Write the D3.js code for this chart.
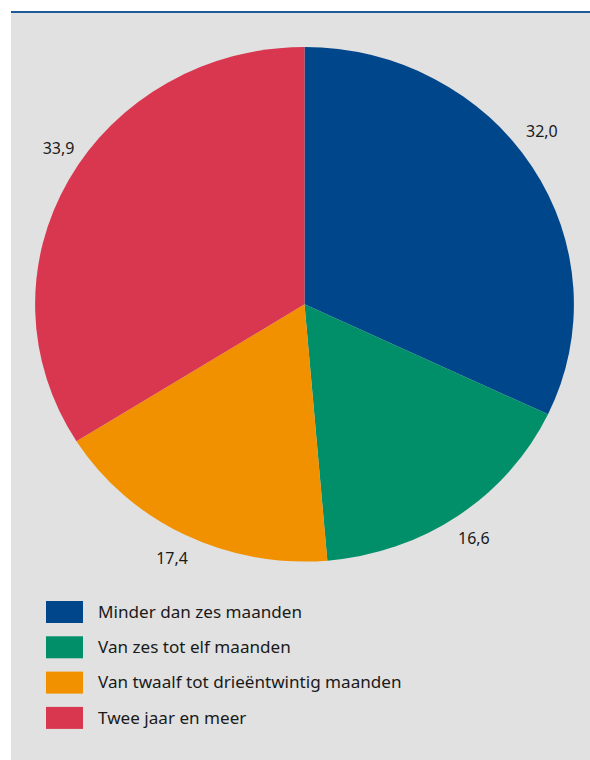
<!DOCTYPE html>
<html>
<head>
<meta charset="utf-8">
<script src="https://cdn.jsdelivr.net/npm/d3@7"></script>
<style>
  html, body { margin: 0; padding: 0; background: #ffffff; }
  svg { display: block; }
  text { font-family: "Noto Sans", "Open Sans", sans-serif; fill: #1a1a1a; }
</style>
</head>
<body>
<script>
// Duur van de werkloosheid (procenten)
const categories = [
  "Minder dan zes maanden",
  "Van zes tot elf maanden",
  "Van twaalf tot drieëntwintig maanden",
  "Twee jaar en meer"
];
const values = [32.0, 16.6, 17.4, 33.9];
const valueLabels = ["32,0", "16,6", "17,4", "33,9"];
const colors = ["#00468b", "#008f68", "#f29100", "#d9374f"];

const W = 590, H = 760;
const svg = d3.select("body").append("svg").attr("width", W).attr("height", H);

// grey panel with blue rule on top
svg.append("rect").attr("x", 11).attr("y", 12).attr("width", W - 11).attr("height", H - 12).attr("fill", "#e1e1e1");
svg.append("rect").attr("x", 11).attr("y", 11).attr("width", W - 11).attr("height", 2).attr("fill", "#1d5a9a");

// pie (slightly wider than tall)
const cx = 304.5, cy = 304.3, r = 257.3, sx = 1.047;
const pie = d3.pie().sort(null).value(d => d);
const arcs = pie(values);
const arc = d3.arc().innerRadius(0).outerRadius(r);

const g = svg.append("g").attr("transform", `translate(${cx},${cy}) scale(${sx},1)`);
g.selectAll("path").data(arcs).join("path")
  .attr("d", arc)
  .attr("fill", (d, i) => colors[i]);

// value labels outside the slices: labels above the centre sit on a
// taller, narrower ring than those below it
const mid = d => (d.startAngle + d.endAngle) / 2;
const ring = d => Math.cos(mid(d)) > 0 ? { rx: 281, ry: 324 } : { rx: 297, ry: 284 };
svg.append("g").selectAll("text").data(arcs).join("text")
  .attr("x", d => cx + ring(d).rx * Math.sin(mid(d)))
  .attr("y", d => cy - ring(d).ry * Math.cos(mid(d)))
  .attr("text-anchor", "middle")
  .attr("dominant-baseline", "central")
  .attr("font-size", 16)
  .text((d, i) => valueLabels[i]);

// legend
const ly = d3.scaleBand().domain(categories).range([601, 601 + 4 * 35.3]);
const legend = svg.append("g").selectAll("g").data(categories).join("g")
  .attr("transform", d => `translate(46,${ly(d)})`);
legend.append("rect").attr("width", 37).attr("height", 22).attr("fill", (d, i) => colors[i]);
legend.append("text").attr("x", 52).attr("y", 16.7).attr("font-size", 17.1).text(d => d);
</script>
</body>
</html>
